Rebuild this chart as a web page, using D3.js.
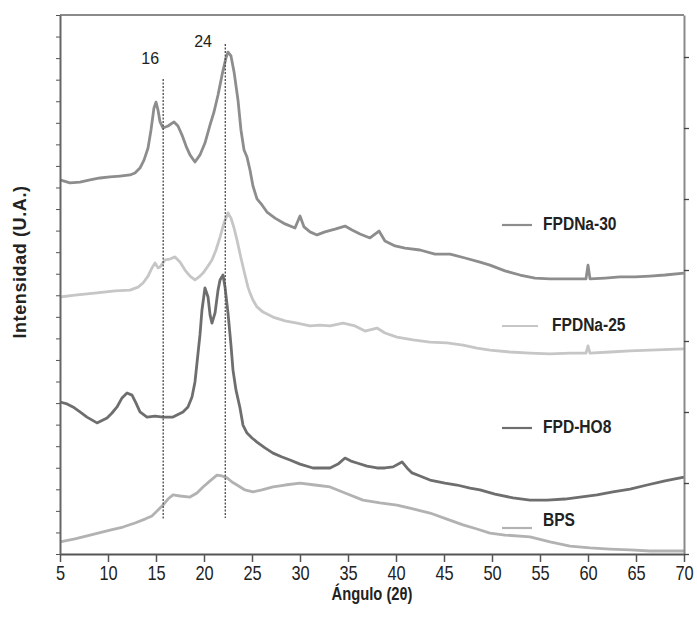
<!DOCTYPE html>
<html>
<head>
<meta charset="utf-8">
<script src="https://cdn.jsdelivr.net/npm/d3@7"></script>
<style>
  body { margin: 0; background: #fff; }
  svg { display: block; }
</style>
</head>
<body>
<svg id="chart" width="697" height="623"></svg>
<script>
// series: [angle 2theta, intensity (U.A.)]
const fpdna30 = [[5,17.35],[6.04,17.21],[7.08,17.25],[8.13,17.35],[9.17,17.44],[10.21,17.49],[11.25,17.53],[12.29,17.58],[12.81,17.67],[13.33,17.9],[13.75,18.27],[14.17,18.83],[14.48,19.67],[14.79,20.69],[15,20.96],[15.21,20.59],[15.42,20.04],[15.73,19.76],[16.25,19.85],[16.88,20.04],[17.29,19.85],[17.71,19.43],[18.13,18.92],[18.54,18.51],[19.06,18.18],[19.58,18.51],[20.1,19.06],[20.63,19.9],[21.04,20.5],[21.46,21.29],[21.88,22.22],[22.29,23.01],[22.5,23.28],[22.81,23.1],[23.13,22.36],[23.54,21.06],[23.85,19.67],[24.17,18.74],[24.48,18.41],[24.79,17.81],[25.1,17.07],[25.52,16.47],[26.04,16.19],[26.56,15.86],[27.4,15.58],[28.44,15.31],[29.48,15.12],[30,15.68],[30.42,15.17],[31.04,14.94],[31.77,14.8],[32.6,14.94],[33.65,15.07],[34.69,15.21],[35.42,15.03],[36.25,14.84],[37.29,14.66],[38.23,14.98],[38.85,14.52],[39.9,14.29],[40.94,14.19],[42.5,14.1],[44.06,13.91],[45.63,13.91],[47.19,13.73],[48.75,13.54],[49.79,13.4],[51.35,13.13],[52.92,12.94],[54.48,12.8],[56.04,12.76],[57.6,12.76],[59.17,12.76],[59.79,12.76],[60,13.4],[60.21,12.76],[61.77,12.8],[63.33,12.85],[64.9,12.85],[66.46,12.89],[68.02,12.94],[70,13.03]];

const fpdna25 = [[5,11.92],[6.56,12.01],[8.85,12.11],[10.73,12.2],[12.29,12.24],[13.13,12.38],[13.65,12.57],[14.17,12.89],[14.58,13.27],[14.9,13.5],[15.21,13.27],[15.42,13.31],[15.94,13.64],[16.46,13.68],[16.98,13.78],[17.5,13.54],[18.02,13.17],[18.54,12.89],[19.06,12.71],[19.48,12.85],[19.9,13.03],[20.42,13.36],[20.83,13.64],[21.25,14.1],[21.67,14.7],[22.08,15.35],[22.5,15.82],[22.81,15.58],[23.13,15.12],[23.44,14.56],[23.85,13.73],[24.27,12.94],[24.58,12.38],[24.79,12.11],[25.1,11.78],[25.52,11.46],[26.15,11.22],[27.19,10.99],[28.44,10.81],[29.69,10.71],[31.04,10.58],[32.08,10.62],[33.13,10.58],[34.48,10.71],[35.73,10.58],[36.77,10.34],[38.02,10.48],[38.85,10.25],[40.1,10.06],[41.77,9.93],[43.54,9.83],[45.31,9.79],[46.98,9.69],[48.44,9.55],[49.79,9.46],[51.88,9.37],[53.96,9.32],[56.04,9.28],[58.13,9.32],[59.79,9.32],[60,9.65],[60.21,9.32],[62.29,9.37],[64.38,9.42],[66.46,9.46],[70,9.51]];

const fpdho8 = [[5,7.05],[5.73,6.96],[6.35,6.82],[7.08,6.59],[7.81,6.35],[8.85,6.08],[9.48,6.22],[9.9,6.31],[10.42,6.54],[10.94,6.82],[11.46,7.24],[11.98,7.47],[12.5,7.37],[12.92,7.0],[13.33,6.59],[14.06,6.35],[14.9,6.4],[15.73,6.35],[16.77,6.35],[17.81,6.59],[18.33,6.82],[18.75,7.28],[19.06,7.98],[19.27,8.86],[19.58,10.16],[19.79,11.32],[20.1,12.34],[20.42,11.92],[20.63,11.09],[20.83,10.71],[21.15,11.18],[21.46,12.24],[21.67,12.71],[21.98,12.94],[22.19,12.38],[22.5,11.18],[22.81,9.69],[23.02,8.53],[23.33,7.61],[23.75,6.77],[24.06,5.98],[24.48,5.61],[25,5.38],[25.52,5.19],[26.35,4.92],[27.19,4.68],[28.13,4.5],[28.96,4.36],[30,4.17],[31.35,3.99],[32.29,3.99],[33.13,3.99],[33.96,4.17],[34.69,4.45],[35.31,4.31],[35.94,4.22],[36.98,4.08],[38.02,3.99],[38.85,3.99],[39.69,4.04],[40.63,4.27],[41.15,3.99],[41.67,3.76],[42.5,3.62],[43.54,3.43],[45.1,3.29],[46.35,3.2],[47.71,3.06],[48.75,2.97],[50.31,2.78],[52.19,2.6],[53.96,2.5],[55.73,2.5],[57.6,2.55],[59.17,2.64],[60.94,2.74],[62.6,2.88],[64.38,3.01],[66.15,3.2],[68.02,3.39],[70,3.57]];

const bps = [[5,0.56],[6.56,0.7],[8.13,0.88],[10.21,1.11],[11.56,1.25],[12.81,1.44],[13.85,1.62],[14.58,1.76],[15.21,2.04],[15.73,2.27],[16.25,2.55],[16.77,2.74],[17.5,2.69],[18.54,2.64],[19.27,2.83],[19.9,3.11],[20.63,3.39],[21.35,3.66],[21.88,3.62],[22.4,3.53],[22.92,3.34],[23.44,3.2],[24.27,2.97],[25.1,2.88],[26.04,2.97],[27.19,3.11],[28.44,3.2],[30,3.29],[31.56,3.2],[33.13,3.11],[34.69,2.83],[36.56,2.5],[38.33,2.37],[40.1,2.27],[41.77,2.09],[43.54,1.9],[45.31,1.62],[46.98,1.35],[48.44,1.16],[49.79,0.97],[51.35,0.88],[53.96,0.79],[56.04,0.56],[58.13,0.37],[60.21,0.28],[62.29,0.23],[64.38,0.19],[66.46,0.14],[70,0.14]];

const seriesNames = ['FPDNa-30', 'FPDNa-25', 'FPD-HO8', 'BPS'];
const xTicks = [5, 10, 15, 20, 25, 30, 35, 40, 45, 50, 55, 60, 65, 70];
// dotted markers: angle, top and bottom intensity, label
const markerAngles = [15.75, 22.22];
const markerTops = [22.03, 23.65];
const markerBottoms = [1.62, 1.67];
const markerLabels = ['16', '24'];
const markerLabelAngles = [14.4, 19.9];
const markerLabelLevels = [22.9, 23.7];

function draw_chart(){
    let LEFT = 60, RIGHT = 684, TOP = 15, BOTTOM = 554;
    let SANS = '"Liberation Sans", Arial, sans-serif';
    let SQUEEZE = 0.82;   // no narrow face installed, so squeeze Liberation Sans

    let svg = d3.select('#chart');

    let xScale = d3.scaleLinear().domain([5, 70]).range([LEFT, RIGHT]);
    let yScale = d3.scaleLinear().domain([0, 25]).range([BOTTOM, TOP]);
    // right hand axis has its own wider tick spacing
    let yRight = d3.scaleLinear().domain([0, (BOTTOM - TOP) / 71]).range([BOTTOM, TOP]);

    // top border
    svg.append('line')
        .attr('x1', LEFT).attr('x2', RIGHT)
        .attr('y1', TOP).attr('y2', TOP)
        .attr('stroke', '#8a8a8a')
        .attr('stroke-width', 2);

    let colors = ['#8d8d8d', '#c6c6c6', '#6e6e6e', '#b2b2b2'];
    let all = [fpdna30, fpdna25, fpdho8, bps];

    let line = d3.line()
        .x(d => xScale(d[0]))
        .y(d => yScale(d[1]));

    svg.append('g')
        .selectAll('path')
        .data(all)
        .join('path')
        .attr('d', d => line(d))
        .attr('fill', 'none')
        .attr('stroke', (d, i) => colors[i])
        .attr('stroke-width', 2.8)
        .attr('stroke-linejoin', 'round');

    // dotted marker lines
    svg.append('g')
        .selectAll('line')
        .data(markerAngles)
        .join('line')
        .attr('x1', d => xScale(d))
        .attr('x2', d => xScale(d))
        .attr('y1', (d, i) => yScale(markerTops[i]))
        .attr('y2', (d, i) => yScale(markerBottoms[i]))
        .attr('stroke', '#555')
        .attr('stroke-width', 1.4)
        .attr('stroke-dasharray', '2,1.5');

    svg.append('g')
        .selectAll('text')
        .data(markerLabels)
        .join('text')
        .attr('x', (d, i) => xScale(markerLabelAngles[i]))
        .attr('y', (d, i) => yScale(markerLabelLevels[i]))
        .attr('text-anchor', 'middle')
        .attr('dominant-baseline', 'middle')
        .style('font-family', SANS)
        .style('font-size', '16px')
        .attr('fill', '#222')
        .text(d => d);

    // axes
    let xAxis = svg.append('g')
        .attr('transform', `translate(0,${BOTTOM})`)
        .call(d3.axisBottom(xScale).tickValues(xTicks).tickSize(8).tickPadding(4).tickSizeOuter(0));
    xAxis.select('.domain').attr('stroke', '#555').attr('stroke-width', 2);
    xAxis.selectAll('.tick line').attr('stroke', '#555').attr('stroke-width', 1.5);
    xAxis.selectAll('.tick text')
        .attr('transform', `scale(${SQUEEZE},1)`)
        .style('font-family', SANS)
        .style('font-size', '20px')
        .attr('fill', '#222');

    let yAxis = svg.append('g')
        .attr('transform', `translate(${LEFT},0)`)
        .call(d3.axisLeft(yScale).ticks(25).tickSize(4).tickFormat('').tickSizeOuter(0));
    yAxis.select('.domain').attr('stroke', '#666').attr('stroke-width', 2);
    yAxis.selectAll('.tick line').attr('stroke', '#555');

    let rAxis = svg.append('g')
        .attr('transform', `translate(${RIGHT},0)`)
        .call(d3.axisRight(yRight).tickValues([0, 1, 2, 3, 4, 5, 6, 7]).tickSize(5).tickFormat('').tickSizeOuter(0));
    rAxis.select('.domain').attr('stroke', '#8a8a8a').attr('stroke-width', 2);
    rAxis.selectAll('.tick line').attr('stroke', '#444').attr('stroke-width', 1.3);

    // axis titles
    svg.append('text')
        .attr('transform', `translate(372,595) scale(${SQUEEZE},1)`)
        .attr('text-anchor', 'middle')
        .attr('dominant-baseline', 'middle')
        .style('font-family', SANS)
        .style('font-weight', 'bold')
        .style('font-size', '18px')
        .attr('fill', '#222')
        .text('Ángulo (2θ)');

    svg.append('text')
        .attr('transform', 'translate(21,262) rotate(-90)')
        .attr('text-anchor', 'middle')
        .attr('dominant-baseline', 'middle')
        .style('font-family', SANS)
        .style('font-weight', 'bold')
        .style('font-size', '18px')
        .style('letter-spacing', '0.6px')
        .attr('fill', '#222')
        .text('Intensidad (U.A.)');

    // legend, one entry next to each curve
    let legY = [225, 326, 428, 528];
    let legX2 = [532, 538, 532, 532];
    let legTX = [543, 552, 543, 543];
    let legTY = [225, 326, 428, 521];

    let leg = svg.append('g');
    leg.selectAll('line')
        .data(seriesNames)
        .join('line')
        .attr('x1', 502)
        .attr('x2', (d, i) => legX2[i])
        .attr('y1', (d, i) => legY[i])
        .attr('y2', (d, i) => legY[i])
        .attr('stroke', (d, i) => colors[i])
        .attr('stroke-width', 2.2);

    leg.selectAll('text')
        .data(seriesNames)
        .join('text')
        .attr('transform', (d, i) => `translate(${legTX[i]},${legTY[i]}) scale(${SQUEEZE},1)`)
        .attr('dominant-baseline', 'middle')
        .style('font-family', SANS)
        .style('font-weight', 'bold')
        .style('font-size', '19px')
        .attr('fill', '#222')
        .text(d => d);
}

draw_chart();
</script>
</body>
</html>
